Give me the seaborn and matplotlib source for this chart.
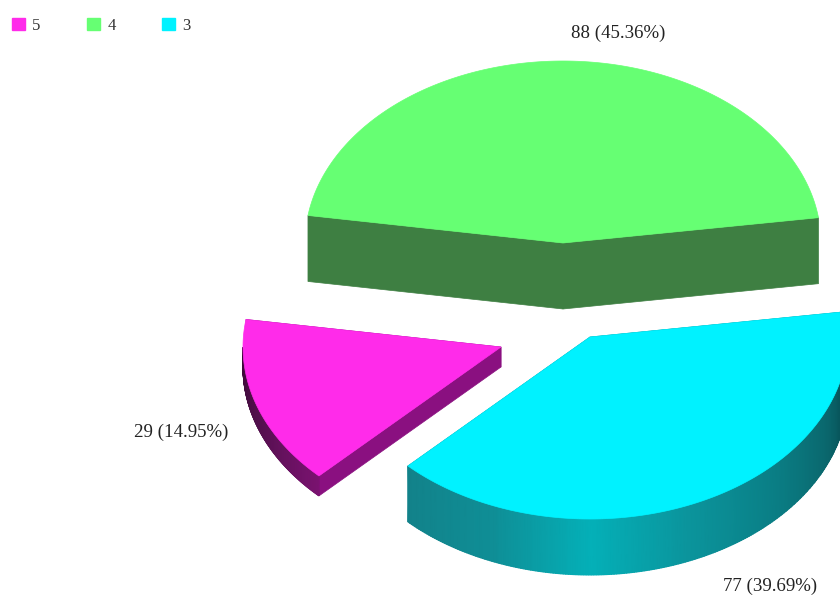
import numpy as np
import matplotlib
matplotlib.use("Agg")
import matplotlib.pyplot as plt
from matplotlib.patches import Patch
import seaborn as sns

# --- Data ---
categories = ["4", "5", "3"]
counts = [88, 29, 77]
legend_order = ["5", "4", "3"]

# --- Style / layout ---
sns.set_theme(style="white")
plt.rcParams["font.family"] = ["Liberation Serif", "DejaVu Serif"]

top_colors = {"4": "#66FF73", "5": "#FF2BEA", "3": "#00F2FF"}
side_ramps = {
    "4": ["#3E7F42", "#3E7F42"],
    "5": ["#3A0A36", "#561050", "#7A1270"],
    "3": ["#12828A", "#0F8E96", "#04B0B8", "#0B949C", "#0A7F86", "#0A666C", "#053C42"],
}
cut_colors = {"4": "#3E7F42", "5": "#8A1080", "3": "#12828A"}
centers = {"4": (563, 243), "5": (501, 347), "3": (590, 337)}
depths = {"4": 66, "5": 20, "3": 56}
label_pos = {"4": (618, 33), "5": (181, 432), "3": (770, 586)}
rx, ry = 258, 182
start_angle = 8


def rim(cat, theta, drop=0):
    cx, cy = centers[cat]
    return cx + rx * np.cos(theta), cy - ry * np.sin(theta) + drop


def draw_slice(ax, cat, t0, t1):
    cx, cy = centers[cat]
    d = depths[cat]
    # cut faces first, the top covers whatever is hidden
    for t in (t0, t1):
        x, y = rim(cat, t)
        ax.fill([cx, x, x, cx], [cy, y, y + d, cy + d],
                color=cut_colors[cat], lw=0.5, zorder=2)
    # outer wall, only the front half of the ellipse shows
    lo, hi = max(t0, np.pi), min(t1, 2 * np.pi)
    if hi > lo:
        steps = np.linspace(lo, hi, 240)
        cmap = sns.blend_palette(side_ramps[cat], as_cmap=True)
        xs, ys = rim(cat, steps)
        X = np.vstack([xs, xs])
        Y = np.vstack([ys, ys + d])
        C = np.vstack([steps, steps])
        ax.pcolormesh(X, Y, C, cmap=cmap, shading="gouraud", zorder=3)
    arc = np.linspace(t0, t1, 200)
    xs, ys = rim(cat, arc)
    ax.fill(np.r_[cx, xs], np.r_[cy, ys], color=top_colors[cat], lw=0.5, zorder=4)


fig, ax = plt.subplots(figsize=(8.4, 5.96), dpi=100)
fig.subplots_adjust(0, 0, 1, 1)

total = sum(counts)
angle = np.radians(start_angle)
for cat, n in zip(categories, counts):
    sweep = 2 * np.pi * n / total
    draw_slice(ax, cat, angle, angle + sweep)
    angle += sweep
    lx, ly = label_pos[cat]
    ax.text(lx, ly, f"{n} ({n / total * 100:.2f}%)", ha="center", va="center",
            fontsize=13.6, color="#222222", zorder=5)

ax.set_xlim(0, 840)
ax.set_ylim(596, 0)
ax.set_axis_off()

handles = [Patch(color=top_colors[c], label=c) for c in legend_order]
ax.legend(handles=handles, ncols=3, frameon=False, loc="upper left",
          bbox_to_anchor=(0.0, 0.99), fontsize=12, handlelength=0.78,
          handleheight=0.78, handletextpad=0.45, columnspacing=2.78,
          labelcolor="#333333", borderaxespad=0.3)

fig.savefig("out.png", dpi=100)
